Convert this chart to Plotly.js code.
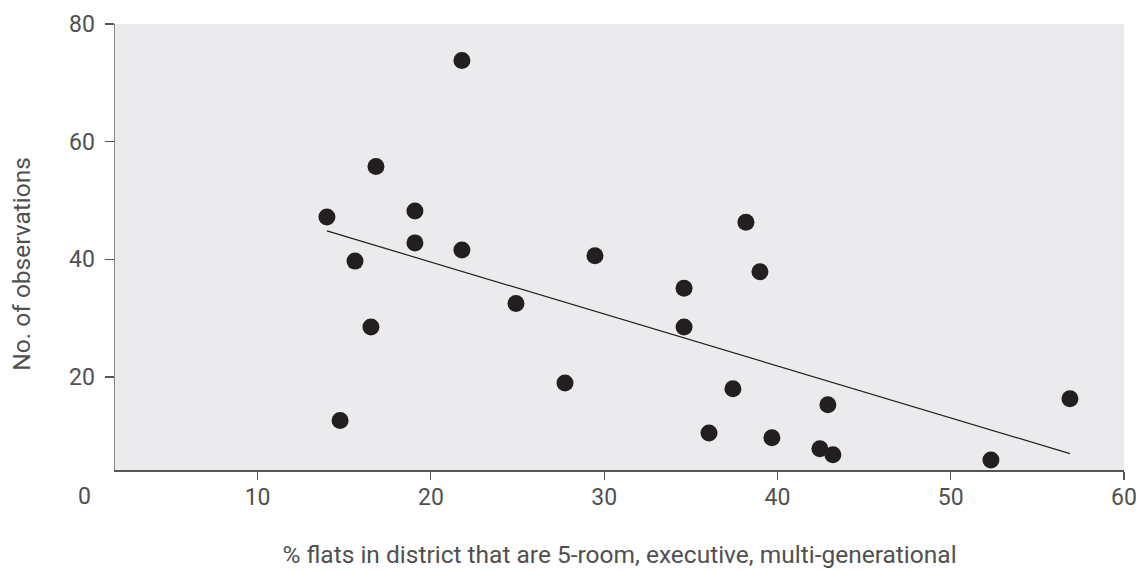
<!DOCTYPE html>
<html>
<head>
<meta charset="utf-8">
<script src="https://cdn.plot.ly/plotly-3.0.1.min.js"></script>
<style>html,body{margin:0;padding:0;background:#fff;}#chart{width:1140px;height:572px;}</style>
</head>
<body>
<div id="chart"></div>
<script>
// % flats in district that are 5-room, executive, multi-generational
const pctFlats = [14.0, 14.76, 15.62, 16.54, 16.83, 19.08, 19.08, 21.79, 21.79, 24.91, 27.74, 29.47,
                  34.61, 34.61, 36.05, 37.43, 38.18, 38.99, 39.68, 42.45, 42.91, 43.2, 52.32, 56.88];
// No. of observations
const observations = [47.2, 12.6, 39.7, 28.5, 55.8, 48.2, 42.8, 73.8, 41.6, 32.5, 19.0, 40.6,
                      35.1, 28.5, 10.5, 18.0, 46.3, 37.9, 9.7, 7.8, 15.3, 6.8, 5.9, 16.3];
const xTicks = [10, 20, 30, 40, 50, 60];
const yTicks = [20, 40, 60, 80];
const xTitle = '% flats in district that are 5-room, executive, multi-generational';
const yTitle = 'No. of observations';

// least squares fit
const n = pctFlats.length;
const mx = pctFlats.reduce((a, b) => a + b, 0) / n;
const my = observations.reduce((a, b) => a + b, 0) / n;
let sxy = 0, sxx = 0;
for (let i = 0; i < n; i++) { sxy += (pctFlats[i] - mx) * (observations[i] - my); sxx += (pctFlats[i] - mx) ** 2; }
const slope = sxy / sxx, icpt = my - slope * mx;
const fitX = [Math.min(...pctFlats), Math.max(...pctFlats)];
const fitY = fitX.map(v => icpt + slope * v);

const xRange = [1.77, 60];
const yRange = [4.2, 80];
const textColor = '#505050';
const font = 'Roboto, "Open Sans", sans-serif';

const traces = [
  { x: fitX, y: fitY, mode: 'lines', line: { color: '#231f20', width: 1.2 }, hoverinfo: 'skip', showlegend: false },
  { x: pctFlats, y: observations, mode: 'markers', marker: { color: '#231f20', size: 17 }, showlegend: false }
];

const layout = {
  width: 1140, height: 572,
  margin: { l: 115, r: 16, t: 24, b: 102 },
  paper_bgcolor: '#ffffff', plot_bgcolor: '#ebebed',
  font: { family: font, color: textColor, size: 23 },
  showlegend: false,
  xaxis: {
    range: xRange, tickvals: xTicks, ticktext: xTicks.map(String),
    showgrid: false, zeroline: false, showline: true, linecolor: '#555', linewidth: 1.5,
    ticks: 'outside', ticklen: 8, tickcolor: '#555', tickwidth: 1.2,
    ticklabelstandoff: -2,
    tickfont: { family: font, size: 23, color: textColor },
    title: { text: xTitle, font: { family: font, size: 24.5, color: textColor }, standoff: 36 }
  },
  yaxis: {
    range: yRange, tickvals: yTicks, ticktext: yTicks.map(String),
    showgrid: false, zeroline: false, showline: true, linecolor: '#888', linewidth: 1.5,
    ticks: 'outside', ticklen: 9, tickcolor: '#555', tickwidth: 1.2,
    ticklabelstandoff: 5,
    tickfont: { family: font, size: 23, color: textColor }
  },
  annotations: [
    { text: '0', xref: 'paper', yref: 'paper',
      x: (0 - xRange[0]) / (xRange[1] - xRange[0]), y: 0, yshift: -11,
      xanchor: 'center', yanchor: 'top', showarrow: false,
      font: { family: font, size: 23, color: textColor } },
    { text: yTitle, xref: 'paper', yref: 'paper', textangle: -90,
      x: -0.093, y: 0.463, xanchor: 'center', yanchor: 'middle', showarrow: false,
      font: { family: font, size: 24.5, color: textColor } }
  ]
};

Plotly.newPlot('chart', traces, layout, { displayModeBar: false, staticPlot: true });
</script>
</body>
</html>
